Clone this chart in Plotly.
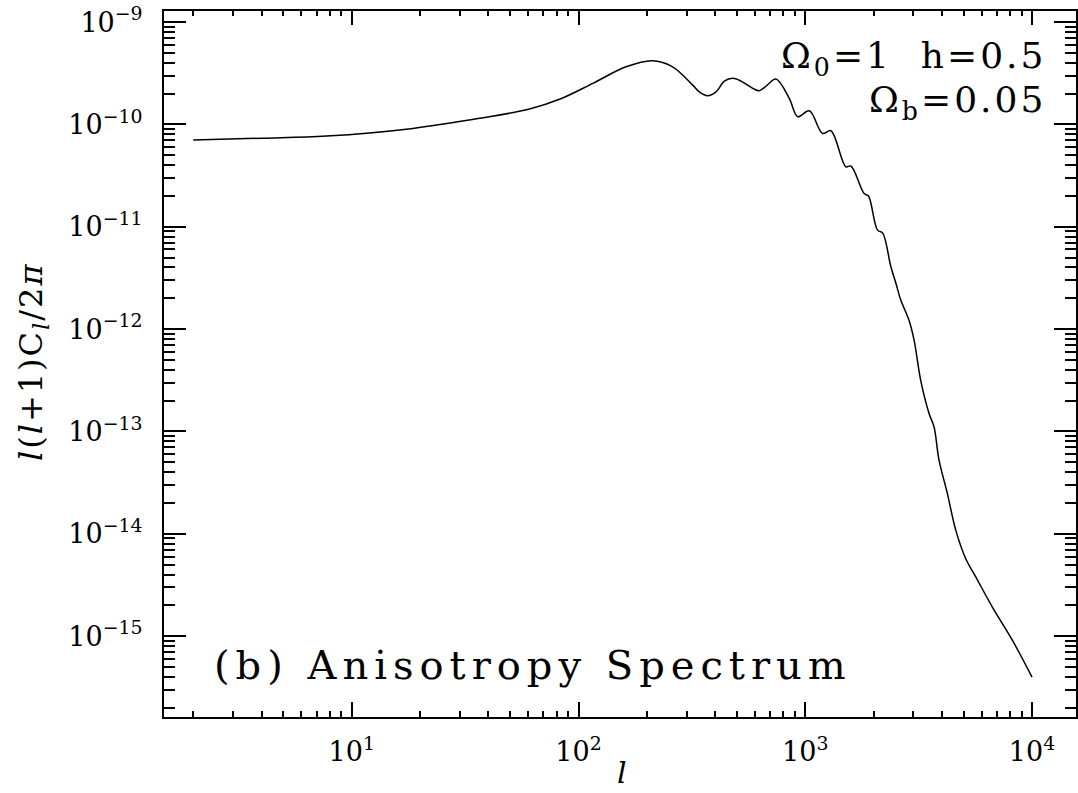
import plotly.graph_objects as go

# multipole l and l(l+1)C_l/2pi
ell = [2, 4, 7.74, 18.6, 36.6, 60.8, 82.4, 115.7, 162, 212,
       260, 319, 341, 371, 404, 440, 478, 521, 587, 627,
       680, 743, 850, 927, 1042, 1192, 1297, 1510, 1589, 1819,
       1900, 2083, 2193, 2386, 2512, 2638, 2868, 3020, 3229, 3515,
       3698, 3890, 4235, 4613, 5103, 5648, 6686, 8190, 10000]
power = [7.03e-11, 7.33e-11, 7.69e-11, 9.14e-11, 1.146e-10, 1.413e-10, 1.758e-10, 2.518e-10, 3.656e-10, 4.188e-10,
         3.656e-10, 2.421e-10, 2.08e-10, 1.905e-10, 2.08e-10, 2.65e-10, 2.818e-10, 2.65e-10, 2.25e-10, 2.133e-10,
         2.42e-10, 2.773e-10, 1.795e-10, 1.189e-10, 1.358e-10, 8.17e-11, 8.67e-11, 3.85e-11, 3.92e-11, 2.11e-11,
         1.995e-11, 9.27e-12, 8.71e-12, 4.06e-12, 2.79e-12, 1.92e-12, 1.22e-12, 7.80e-13, 3.16e-13, 1.50e-13,
         1.107e-13, 5.25e-14, 2.47e-14, 1.08e-14, 5.71e-15, 3.80e-15, 1.92e-15, 9.12e-16, 3.98e-16]

x_tick_vals = [10, 100, 1000, 10000]
x_tick_text = ["10<sup>1</sup>", "10<sup>2</sup>", "10<sup>3</sup>", "10<sup>4</sup>"]
y_tick_vals = [1e-9, 1e-10, 1e-11, 1e-12, 1e-13, 1e-14, 1e-15]
y_tick_text = ["10<sup>\u22129</sup>", "10<sup>\u221210</sup>", "10<sup>\u221211</sup>", "10<sup>\u221212</sup>",
               "10<sup>\u221213</sup>", "10<sup>\u221214</sup>", "10<sup>\u221215</sup>"]

x_minor = [d * 10 ** k for k in range(0, 5) for d in range(2, 10)]
y_minor = [d * 10.0 ** k for k in range(-16, -8) for d in range(2, 10)]

FONT = "DejaVu Serif"
XR = [0.172, 4.194]
YR = [-15.79, -8.892]
L, R, T, B = 164, 1076, 11, 717


def px(xp):
    return (xp - L) / (R - L)


def py(yp):
    return (B - yp) / (B - T)


fig = go.Figure()
fig.add_trace(go.Scatter(x=ell, y=power, mode="lines",
                         line=dict(color="black", width=1.5, shape="spline", smoothing=1.0),
                         showlegend=False, hoverinfo="skip"))
# invisible trace to anchor mirrored tick axes
fig.add_trace(go.Scatter(x=[ell[0]], y=[power[0]], xaxis="x2", yaxis="y2", mode="markers",
                         marker=dict(opacity=0), showlegend=False, hoverinfo="skip"))

common_x = dict(type="log", range=XR, tickmode="array", tickvals=x_tick_vals,
                ticks="inside", tickwidth=1.5, tickcolor="black",
                showgrid=False, zeroline=False, automargin=False)
common_y = dict(type="log", range=YR, tickmode="array", tickvals=y_tick_vals,
                ticks="inside", tickwidth=1.5, tickcolor="black",
                showgrid=False, zeroline=False, automargin=False)

fig.update_layout(
    xaxis=dict(**common_x, ticktext=x_tick_text, ticklen=15,
               minor=dict(tickmode="array", tickvals=x_minor, ticks="inside", ticklen=6,
                          tickwidth=1.5, tickcolor="black", showgrid=False),
               showline=True, linecolor="black", linewidth=2, mirror=True,
               ticklabelstandoff=10, tickfont=dict(family=FONT, size=27, color="black")),
    yaxis=dict(**common_y, ticktext=y_tick_text, ticklen=22,
               minor=dict(tickmode="array", tickvals=y_minor, ticks="inside", ticklen=11,
                          tickwidth=1.5, tickcolor="black", showgrid=False),
               showline=True, linecolor="black", linewidth=2, mirror=True,
               ticklabelstandoff=14, tickfont=dict(family=FONT, size=27, color="black")),
    xaxis2=dict(**common_x, overlaying="x", side="top", anchor="y", ticklen=14, showticklabels=False,
                minor=dict(tickmode="array", tickvals=x_minor, ticks="inside", ticklen=5,
                           tickwidth=1.5, tickcolor="black", showgrid=False),
                showline=False),
    yaxis2=dict(**common_y, overlaying="y", side="right", anchor="x", ticklen=22, showticklabels=False,
                minor=dict(tickmode="array", tickvals=y_minor, ticks="inside", ticklen=11,
                           tickwidth=1.5, tickcolor="black", showgrid=False),
                showline=False),
)

fig.add_annotation(text='<span style="letter-spacing:3px">\u03a9<sub>0</sub>=1  h=0.5</span>',
                   x=px(1048), y=py(58), xref="paper", yref="paper",
                   xanchor="right", yanchor="middle", showarrow=False,
                   font=dict(family=FONT, size=36, color="black"))
fig.add_annotation(text='<span style="letter-spacing:3px">\u03a9<sub>b</sub>=0.05</span>',
                   x=px(1048), y=py(102), xref="paper", yref="paper",
                   xanchor="right", yanchor="middle", showarrow=False,
                   font=dict(family=FONT, size=36, color="black"))
fig.add_annotation(text='<span style="letter-spacing:6px">(b) Anisotropy Spectrum</span>',
                   x=px(212), y=py(665), xref="paper", yref="paper",
                   xanchor="left", yanchor="middle", showarrow=False,
                   font=dict(family=FONT, size=40, color="black"))
fig.add_annotation(text="<i>l</i>", x=px(622), y=py(772), xref="paper", yref="paper",
                   xanchor="center", yanchor="middle", showarrow=False,
                   font=dict(family=FONT, size=30, color="black"))
fig.add_annotation(text='<span style="letter-spacing:2px"><i>l</i>(<i>l</i>+1)C<sub><i>l</i></sub>/2<i>\u03c0</i></span>',
                   x=px(33), y=py(362),
                   xref="paper", yref="paper", xanchor="center", yanchor="middle",
                   textangle=-90, showarrow=False,
                   font=dict(family=FONT, size=32, color="black"))

fig.update_layout(width=1078, height=793, margin=dict(l=L, r=1078 - R, t=T, b=793 - B),
                  plot_bgcolor="white", paper_bgcolor="white")

fig.write_html("out.html", config={"displayModeBar": False},
               post_script="document.body.style.margin='0';document.body.style.overflow='hidden';")
